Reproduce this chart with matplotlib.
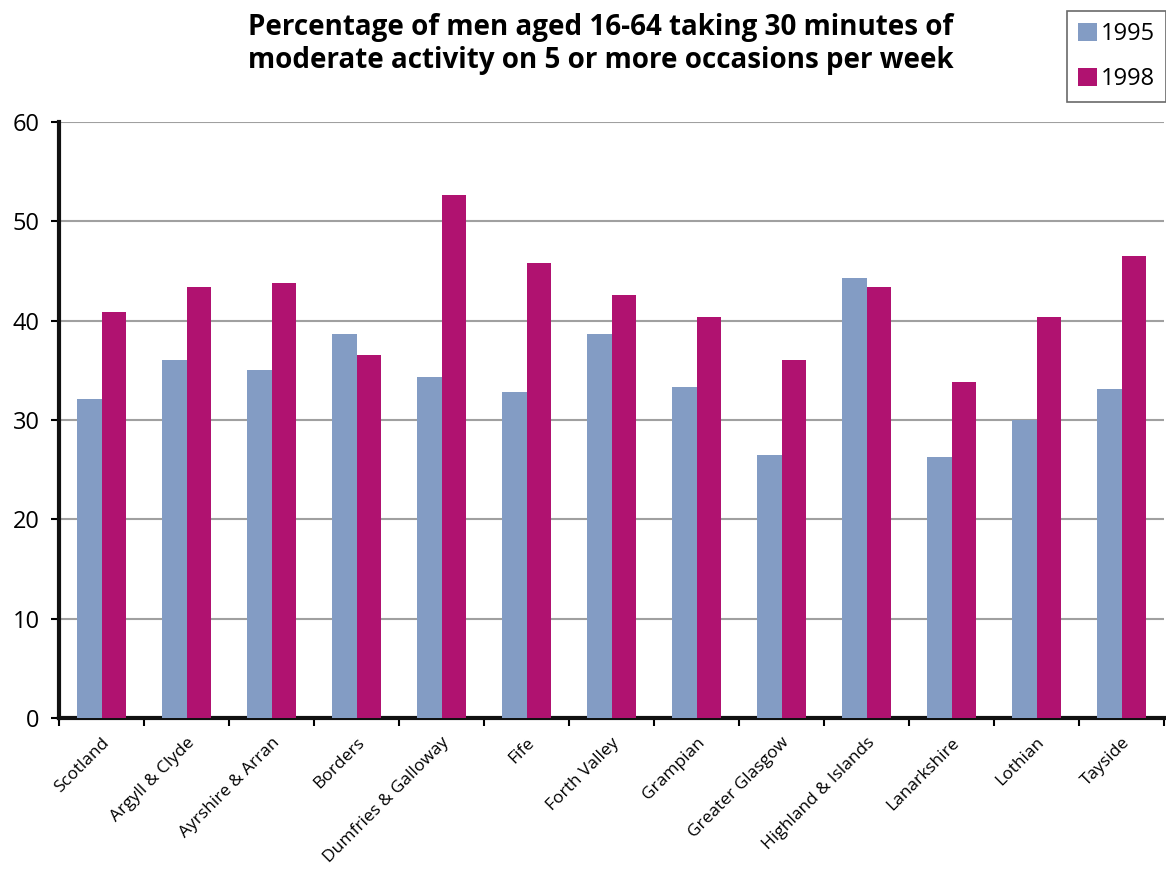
import matplotlib.pyplot as plt
import numpy as np

plt.rcParams['font.family'] = ['Open Sans', 'DejaVu Sans']

regions = ["Scotland", "Argyll & Clyde", "Ayrshire & Arran", "Borders",
           "Dumfries & Galloway", "Fife", "Forth Valley", "Grampian",
           "Greater Glasgow", "Highland & Islands", "Lanarkshire", "Lothian",
           "Tayside"]
pct_1995 = [32.1, 36.0, 35.0, 38.7, 34.3, 32.8, 38.7, 33.3, 26.5, 44.3, 26.3, 30.0, 33.1]
pct_1998 = [40.9, 43.4, 43.8, 36.5, 52.7, 45.8, 42.6, 40.4, 36.0, 43.4, 33.8, 40.4, 46.5]

fig = plt.figure(figsize=(11.66, 8.72), dpi=100)
ax = fig.add_axes([0.0506, 0.1766, 0.9477, 0.6834])

x = np.arange(len(regions))
w = 0.29
ax.bar(x - w / 2, pct_1995, w, color="#839cc4", label="1995", zorder=3)
ax.bar(x + w / 2, pct_1998, w, color="#b01270", label="1998", zorder=3)

ax.set_xlim(-0.5, len(regions) - 0.5)
ax.set_ylim(0, 60)
ax.set_yticks(range(0, 61, 10))
ax.yaxis.grid(True, color="#a0a0a0", linewidth=1.5, zorder=0)
ax.tick_params(axis="y", labelsize=17, length=6, width=1.5, direction="out", pad=8)

# ticks sit between the groups, labels under the group centres
ax.set_xticks(np.arange(len(regions) + 1) - 0.5)
ax.set_xticklabels([])
ax.set_xticks(x, minor=True)
ax.set_xticklabels(regions, minor=True, rotation=45, ha="right",
                   rotation_mode="anchor", fontsize=12.5)
ax.tick_params(axis="x", which="major", length=6, width=1.5, direction="out")
ax.tick_params(axis="x", which="minor", length=0, pad=12)

for s in ["top", "right"]:
    ax.spines[s].set_visible(False)
for s in ["left", "bottom"]:
    ax.spines[s].set_linewidth(3)
    ax.spines[s].set_color("#111111")

fig.text(0.515, 0.985, "Percentage of men aged 16-64 taking 30 minutes of\n"
         "moderate activity on 5 or more occasions per week",
         ha="center", va="top", fontsize=20, fontweight="bold", linespacing=1.2)

leg = fig.legend(loc="upper right", bbox_to_anchor=(1.0, 0.987), fontsize=17,
                 frameon=True, fancybox=False, edgecolor="#444444",
                 handlelength=0.8, handleheight=0.8, handletextpad=0.2,
                 labelspacing=0.9, borderpad=0.45, borderaxespad=0)
leg.get_frame().set_linewidth(1.2)

fig.savefig("out.png", dpi=100)
